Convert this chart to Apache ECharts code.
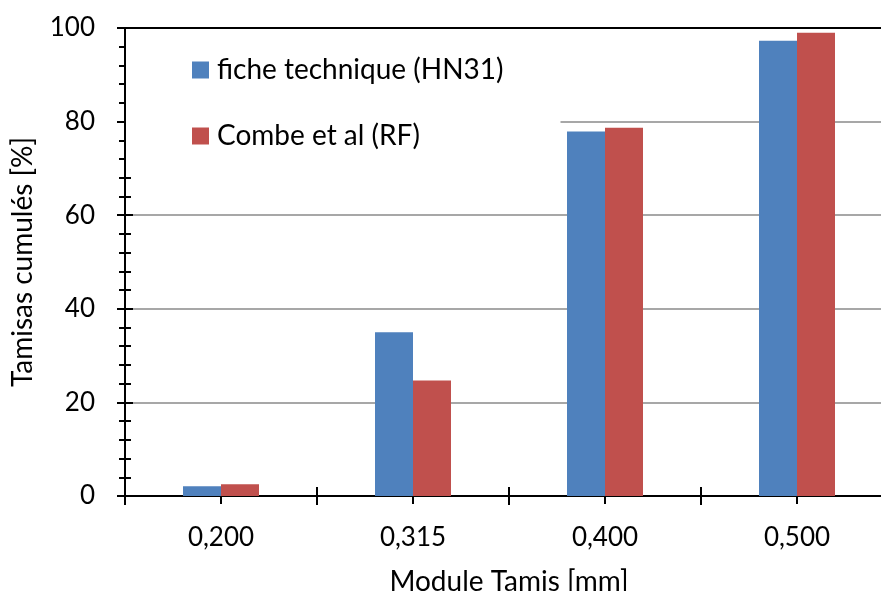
<!DOCTYPE html>
<html>
<head>
<meta charset="utf-8">
<script src="https://cdn.jsdelivr.net/npm/echarts@6/dist/echarts.min.js"></script>
<style>
  html, body { margin: 0; padding: 0; background: #fff; overflow: hidden; }
  /* le graphique déborde un peu à droite, comme l'original */
  #chart { width: 893px; height: 591px; }
</style>
</head>
<body>
<div id="chart"></div>
<script>
  // données
  const categories = ['0,200', '0,315', '0,400', '0,500'];
  const ficheTechnique = [2.1, 35.0, 77.9, 97.3];
  const combeEtAl = [2.5, 24.7, 78.7, 99.0];
  const yTicks = { min: 0, max: 100, interval: 20 };

  const font = 'Lato, "Open Sans", sans-serif';
  const black = '#000';

  const myChart = echarts.init(document.getElementById('chart'));

  const hidden = { show: false };

  const option = {
    animation: false,
    textStyle: { fontFamily: font },
    grid: { left: 125, right: 0, top: 28, bottom: 95, containLabel: false, outerBoundsMode: 'none' },
    legend: {
      orient: 'vertical',
      left: 126,
      top: 36,
      padding: [20, 57, 20, 66],
      backgroundColor: '#fff',
      itemWidth: 17,
      itemHeight: 17,
      itemGap: 38,
      icon: 'rect',
      textStyle: { fontFamily: font, fontSize: 28, lineHeight: 24, color: black, padding: [0, 0, 0, 3] },
      data: ['fiche technique (HN31)', 'Combe et al (RF)'],
    },
    xAxis: [
      {
        type: 'category',
        data: categories,
        position: 'bottom',
        axisLine: { lineStyle: { color: black, width: 2 } },
        axisTick: { show: true, length: 9, lineStyle: { color: black, width: 2 } },
        axisLabel: { fontSize: 26, color: black, margin: 29, fontFamily: font },
        name: 'Module Tamis [mm]',
        nameLocation: 'middle',
        nameGap: 72,
        nameTextStyle: { fontSize: 28, color: black, fontFamily: font },
        splitLine: hidden,
      },
      {
        type: 'category',
        data: categories,
        position: 'bottom',
        axisLine: hidden,
        axisTick: { show: true, inside: true, length: 9, lineStyle: { color: black, width: 2 } },
        axisLabel: hidden,
        splitLine: hidden,
      },
      {
        type: 'category',
        data: categories,
        position: 'bottom',
        axisLine: hidden,
        axisTick: { show: true, alignWithLabel: true, length: 8, lineStyle: { color: black, width: 2 } },
        axisLabel: hidden,
        splitLine: hidden,
      },
      {
        type: 'category',
        data: categories,
        position: 'top',
        axisLine: { lineStyle: { color: black, width: 2 } },
        axisTick: hidden,
        axisLabel: hidden,
        splitLine: hidden,
      },
    ],
    yAxis: [
      {
        type: 'value',
        min: yTicks.min,
        max: yTicks.max,
        interval: yTicks.interval,
        axisLine: { show: true, lineStyle: { color: black, width: 2 } },
        axisTick: { show: true, length: 8, lineStyle: { color: black, width: 2 } },
        minorTick: { show: true, splitNumber: 5, length: 6, lineStyle: { color: black, width: 2 } },
        axisLabel: { fontSize: 26, color: black, margin: 30, fontFamily: font },
        splitLine: { show: true, lineStyle: { color: '#8a8a8a', width: 1.5 } },
        name: 'Tamisas cumulés [%]',
        nameLocation: 'middle',
        nameGap: 88,
        nameTextStyle: { fontSize: 28, color: black, fontFamily: font },
      },
      {
        type: 'value',
        min: yTicks.min,
        max: yTicks.max,
        interval: yTicks.interval,
        position: 'left',
        axisLine: hidden,
        axisTick: { show: true, inside: true, length: 8, lineStyle: { color: black, width: 2 } },
        minorTick: { show: true, splitNumber: 5, length: 6, lineStyle: { color: black, width: 2 } },
        axisLabel: hidden,
        splitLine: hidden,
      },
    ],
    series: [
      {
        name: 'fiche technique (HN31)',
        type: 'bar',
        data: ficheTechnique,
        barWidth: 38,
        barGap: '0%',
        itemStyle: { color: '#4F81BD' },
      },
      {
        name: 'Combe et al (RF)',
        type: 'bar',
        data: combeEtAl,
        barWidth: 38,
        barGap: '0%',
        itemStyle: { color: '#C0504D' },
      },
    ],
  };

  myChart.setOption(option);
</script>
</body>
</html>
